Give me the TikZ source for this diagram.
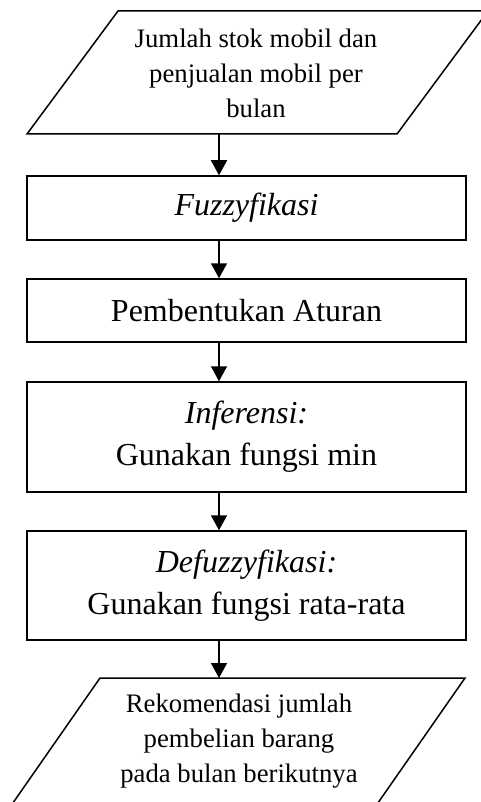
\documentclass[tikz,border=0pt]{standalone}
\usepackage{fontspec}
\setmainfont{Liberation Serif}
\usetikzlibrary{arrows.meta}
\begin{document}
\begin{tikzpicture}[x=1pt,y=-1pt,
  line width=1.5pt,
  procbox/.style={draw, minimum width=439pt, inner sep=0pt, align=center},
  big/.style={font=\fontsize{32}{42}\selectfont},
  small/.style={font=\fontsize{26.7}{35}\selectfont, align=center},
  flow/.style={-{Triangle[width=16pt,length=15pt]}, line width=1.5pt}]
\useasboundingbox (0,0) rectangle (481,802);
\clip (0,0) rectangle (481,802);
% input parallelogram
\draw (118,11) -- (488,11) -- (397,134) -- (27,134) -- cycle;
\node[small] (in) at (256,73) {Jumlah stok mobil dan\\penjualan mobil per\\bulan};
\coordinate (inb) at (219,134);
% process boxes
\node[procbox, big, minimum height=64pt] (fz) at (246.5,208) {\textit{Fuzzyfikasi}};
\node[procbox, big, minimum height=63pt] (pa) at (246.5,310.5) {Pembentukan Aturan};
\node[procbox, big, minimum height=110pt] (inf) at (246.5,437) {\textit{Inferensi:}\\Gunakan fungsi min};
\node[procbox, big, minimum height=109pt] (df) at (246.5,585.5) {\textit{Defuzzyfikasi:}\\Gunakan fungsi rata-rata};
% output parallelogram
\draw (100,678) -- (465,678) -- (373,810) -- (8,810) -- cycle;
\node[small] (out) at (239,741) {Rekomendasi jumlah\\pembelian barang\\pada bulan berikutnya};
\coordinate (outt) at (219,678);
% connectors
\draw[flow] (inb) -- (inb |- fz.north);
\draw[flow] (fz.south -| inb) -- (inb |- pa.north);
\draw[flow] (pa.south -| inb) -- (inb |- inf.north);
\draw[flow] (inf.south -| inb) -- (inb |- df.north);
\draw[flow] (df.south -| inb) -- (outt);
\end{tikzpicture}
\end{document}
